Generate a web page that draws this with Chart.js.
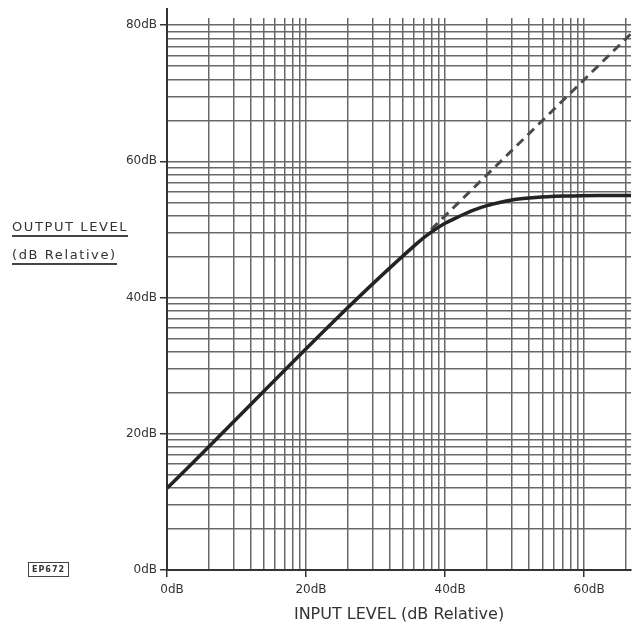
<!DOCTYPE html>
<html>
<head>
<meta charset="utf-8">
<script src="https://cdn.jsdelivr.net/npm/chart.js@4.4.1/dist/chart.umd.min.js"></script>
<style>
  html, body { margin: 0; padding: 0; background: #fff; }
  #wrap { position: relative; width: 632px; height: 624px; }
  canvas { position: absolute; left: 0; top: 0; }
  .side { position: absolute; left: 12px; font-family: "DejaVu Sans", sans-serif; font-size: 13px; color: #333;
          letter-spacing: 1.6px; border-bottom: 2px solid #444; line-height: 15px; padding-bottom: 1px; white-space: nowrap; }
  #ep { position: absolute; left: 28px; top: 562px; border: 1px solid #444; font: bold 8px "DejaVu Sans", sans-serif;
        color: #333; padding: 2px 3px; letter-spacing: 1px; }
</style>
</head>
<body>
<div id="wrap">
  <canvas id="chart" width="632" height="624"></canvas>
  <div class="side" style="top:219px">OUTPUT LEVEL</div>
  <div class="side" style="top:247px">(dB Relative)</div>
  <div id="ep">EP672</div>
</div>
<script>
/* Compressor transfer curve on log paper (20 dB per decade) */
const inputLevels  = [0, 36, 38, 40, 42, 44, 46, 48, 50, 53, 57, 62, 66.75];
const outputLevels = [12, 48, 49.6, 50.9, 51.9, 52.8, 53.5, 54.0, 54.4, 54.7, 54.9, 55, 55];
const linearInput  = [38, 66.75];
const linearOutput = [50, 78.75];
const labelTicks   = [0, 20, 40, 60, 80];
const decadeSteps  = [1, 2, 3, 4, 5, 6, 7, 8, 9];

const X_MAX = 66.75, Y_MAX = 81.05;

// log-paper grid: lines at 20*log10(k) inside each 20 dB decade
function paperTicks(max) {
  const out = [];
  for (let d = 0; d * 20 <= max; d++) {
    decadeSteps.forEach(k => {
      const v = d * 20 + 20 * Math.log10(k);
      if (v <= max) out.push({ value: v });
    });
  }
  return out;
}

const pts = (xs, ys) => xs.map((x, i) => ({ x, y: ys[i] }));
const isMajor = v => labelTicks.includes(Math.round(v * 1000) / 1000);
const tickFont = { family: "DejaVu Sans", size: 12 };
const gridColor = "#686868";

// short stub of the y axis above the grid
const axisStub = {
  id: "axisStub",
  afterDraw(chart) {
    const { ctx, chartArea: a } = chart;
    ctx.save();
    ctx.strokeStyle = "#333"; ctx.lineWidth = 2;
    ctx.beginPath(); ctx.moveTo(a.left, a.top - 10); ctx.lineTo(a.left, a.top); ctx.stroke();
    ctx.restore();
  }
};

new Chart(document.getElementById("chart"), {
  type: "scatter",
  data: {
    datasets: [
      { data: pts(inputLevels, outputLevels), showLine: true, borderColor: "#232323", borderWidth: 3.5,
        pointRadius: 0, cubicInterpolationMode: "monotone" },
      { data: pts(linearInput, linearOutput), showLine: true, borderColor: "#4a4a4a", borderWidth: 3,
        borderDash: [9, 6], pointRadius: 0 },
    ]
  },
  options: {
    responsive: false, animation: false, events: [],
    layout: { padding: { top: 18, right: 0, left: 0, bottom: 0 } },
    plugins: { legend: { display: false }, tooltip: { enabled: false } },
    scales: {
      x: {
        type: "linear", min: 0, max: X_MAX,
        afterBuildTicks: s => { s.ticks = paperTicks(X_MAX); },
        afterFit: s => { s.height = 54; },
        grid: { color: gridColor, lineWidth: 1.5, tickLength: 7,
                tickColor: c => (c.tick && isMajor(c.tick.value)) ? "#333" : "rgba(0,0,0,0)" },
        border: { color: "#333", width: 2 },
        ticks: { autoSkip: false, maxRotation: 0, color: "#333", font: tickFont, padding: 6, labelOffset: 5,
                 callback: v => isMajor(v) ? Math.round(v) + "dB" : "" },
        title: { display: true, text: "INPUT LEVEL (dB Relative)", color: "#333",
                 font: { family: "DejaVu Sans", size: 16 }, padding: { top: 0, bottom: 0 } }
      },
      y: {
        type: "linear", min: 0, max: Y_MAX,
        afterBuildTicks: s => { s.ticks = paperTicks(80); },
        afterFit: s => { s.width = 167; },
        grid: { color: gridColor, lineWidth: 1.5, tickLength: 7,
                tickColor: c => (c.tick && isMajor(c.tick.value)) ? "#333" : "rgba(0,0,0,0)" },
        border: { color: "#333", width: 2 },
        ticks: { autoSkip: false, color: "#333", font: tickFont, padding: 3,
                 callback: v => isMajor(v) ? Math.round(v) + "dB" : "" }
      }
    }
  },
  plugins: [axisStub]
});
</script>
</body>
</html>
